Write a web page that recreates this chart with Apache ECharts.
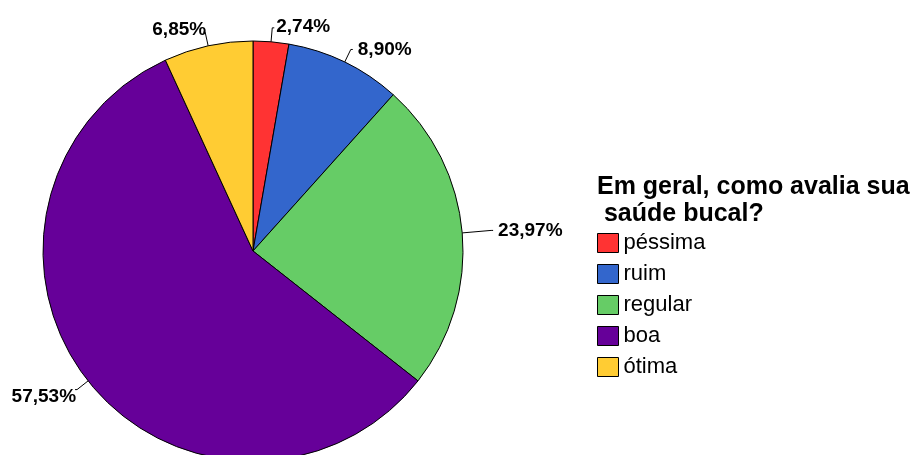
<!DOCTYPE html>
<html>
<head>
<meta charset="utf-8">
<script src="https://cdn.jsdelivr.net/npm/echarts@6/dist/echarts.min.js"></script>
<style>
  html, body { margin: 0; padding: 0; background: #fff; }
  #chart { width: 917px; height: 455px; }
</style>
</head>
<body>
<div id="chart"></div>
<script>
// dados
const categorias = ['péssima', 'ruim', 'regular', 'boa', 'ótima'];
const percentuais = [2.74, 8.90, 23.97, 57.53, 6.85];
const cores = ['#ff3333', '#3366cc', '#66cc66', '#660099', '#ffcc33'];
const tituloLegenda = 'Em geral, como avalia sua\n saúde bucal?';

const fonte = '"Liberation Sans", Arial, sans-serif';

// comprimento da linha-guia e pequenos ajustes dos rótulos (dx, dy)
const linhaGuia = [14, 14, 29, 14, 14];
const ajusteRotulo = [[-3, -1], [0, 0], [0, 0], [6, 7], [8, -2]];

const chart = echarts.init(document.getElementById('chart'));
chart.setOption({
  animation: false,
  title: {
    text: tituloLegenda,
    left: 592, top: 169,
    textStyle: { fontFamily: fonte, fontSize: 25, fontWeight: 'bold', color: '#000', lineHeight: 27 }
  },
  legend: {
    orient: 'vertical',
    left: 592, top: 227,
    itemWidth: 21, itemHeight: 19, itemGap: 9,
    icon: 'rect',
    itemStyle: { borderColor: '#000', borderWidth: 1 },
    textStyle: { fontFamily: fonte, fontSize: 22, color: '#000', lineHeight: 19 },
    data: categorias
  },
  series: [{
    type: 'pie',
    center: [253, 251],
    radius: 210,
    startAngle: 90,
    clockwise: true,
    avoidLabelOverlap: false,
    itemStyle: { borderColor: '#000', borderWidth: 1 },
    label: {
      show: true,
      position: 'outside',
      fontFamily: fonte, fontSize: 19, fontWeight: 'bold', color: '#000',
      formatter: p => p.value.toFixed(2).replace('.', ',') + '%'
    },
    labelLine: { show: true, length: 14, length2: 2, lineStyle: { color: '#000', width: 1 } },
    labelLayout: p => ({ dx: ajusteRotulo[p.dataIndex][0], dy: ajusteRotulo[p.dataIndex][1] }),
    emphasis: { disabled: true },
    data: categorias.map((c, i) => ({
      name: c,
      value: percentuais[i],
      itemStyle: { color: cores[i] },
      labelLine: { length: linhaGuia[i] }
    }))
  }]
});
</script>
</body>
</html>
